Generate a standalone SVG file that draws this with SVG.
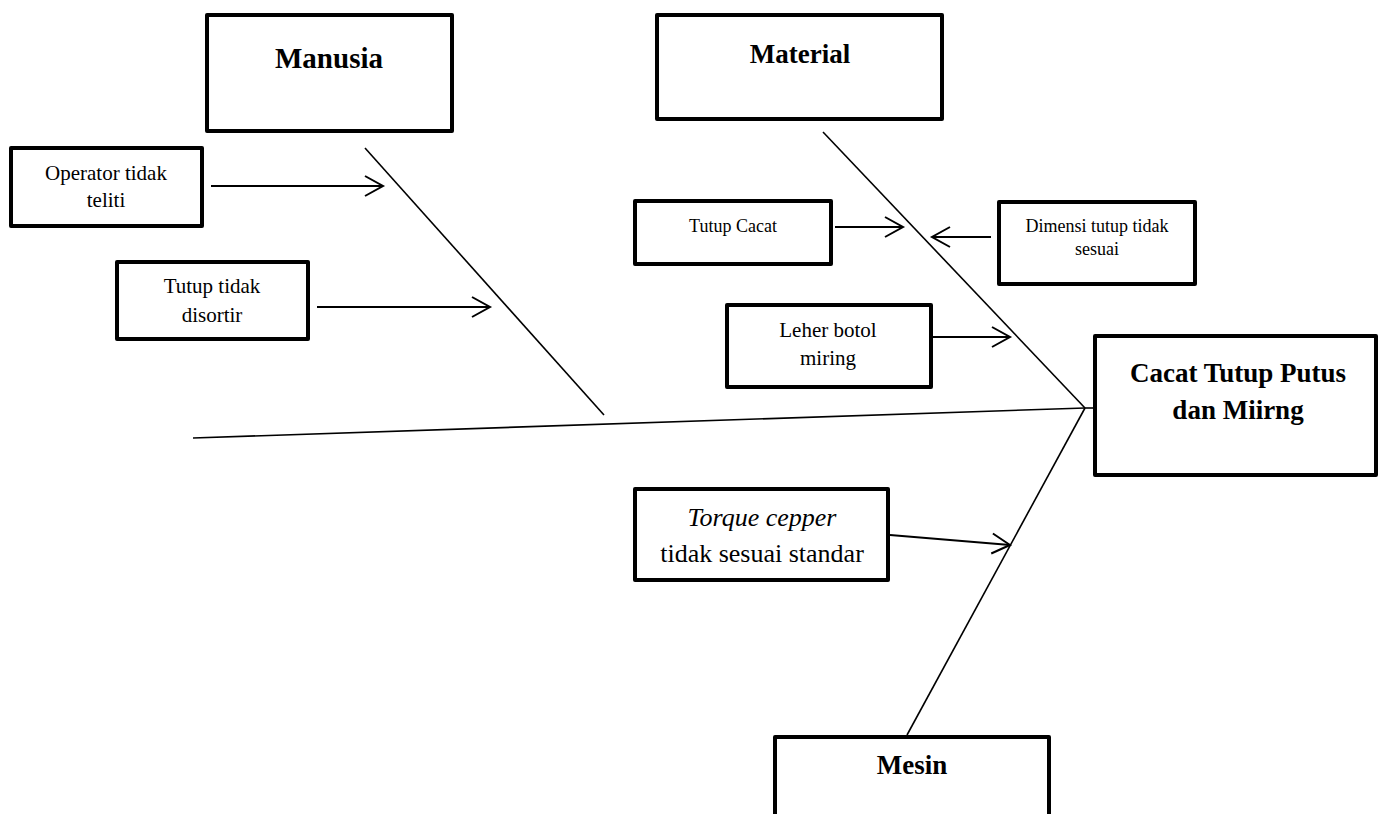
<svg xmlns="http://www.w3.org/2000/svg" width="1380" height="814" viewBox="0 0 1380 814">
  <style>
    .box { fill: #ffffff; stroke: #000000; stroke-width: 4; stroke-linejoin: round; }
    .bone { fill: none; stroke: #000000; stroke-width: 1.6; }
    .arrow { fill: none; stroke: #000000; stroke-width: 2; marker-end: url(#chev); }
    text { font-family: "Liberation Serif", "Times New Roman", serif; fill: #000000; text-anchor: middle; }
    .head { font-weight: bold; font-size: 27px; }
    .cause { font-size: 21px; }
    .small { font-size: 18px; }
    .big { font-size: 26px; }
  </style>
  <defs>
    <marker id="chev" markerUnits="userSpaceOnUse" markerWidth="24" markerHeight="24" viewBox="-20 -12 24 24" refX="0" refY="0" orient="auto">
      <path d="M-18,-10 L0,0 L-18,10" fill="none" stroke="#000000" stroke-width="2"/>
    </marker>
  </defs>
  <rect width="1380" height="814" fill="#ffffff"/>

  <!-- fish bones and cause arrows -->
  <g id="connectors">
    <line class="bone" x1="193" y1="438" x2="1085" y2="408"/>
    <line class="bone" x1="1085" y1="408" x2="1095" y2="408"/>
    <line class="bone" x1="365" y1="148" x2="604" y2="415"/>
    <line class="bone" x1="823" y1="132" x2="1085" y2="408"/>
    <line class="bone" x1="907" y1="735" x2="1085" y2="408"/>
    <line class="arrow" x1="211" y1="186" x2="383" y2="186"/>
    <line class="arrow" x1="317" y1="307" x2="490" y2="307"/>
    <line class="arrow" x1="835" y1="227" x2="903" y2="227"/>
    <line class="arrow" x1="991" y1="237" x2="932" y2="237"/>
    <line class="arrow" x1="933" y1="337" x2="1010" y2="337"/>
    <line class="arrow" x1="890" y1="535" x2="1010" y2="545"/>
  </g>

  <g id="manusia">
    <rect class="box" x="207" y="15" width="245" height="116"/>
    <text class="head" x="329" y="68" style="font-size:29px">Manusia</text>
  </g>
  <g id="operator">
    <rect class="box" x="11" y="148" width="191" height="78"/>
    <text class="cause" x="106" y="180">Operator tidak</text>
    <text class="cause" x="106" y="207">teliti</text>
  </g>
  <g id="tutup-disortir">
    <rect class="box" x="117" y="262" width="191" height="77"/>
    <text class="cause" x="212" y="293">Tutup tidak</text>
    <text class="cause" x="212" y="322">disortir</text>
  </g>
  <g id="material">
    <rect class="box" x="657" y="15" width="285" height="104"/>
    <text class="head" x="800" y="63">Material</text>
  </g>
  <g id="tutup-cacat">
    <rect class="box" x="635" y="201" width="196" height="63"/>
    <text class="small" x="733" y="232">Tutup Cacat</text>
  </g>
  <g id="dimensi">
    <rect class="box" x="999" y="202" width="196" height="82"/>
    <text class="small" x="1097" y="232">Dimensi tutup tidak</text>
    <text class="small" x="1097" y="255">sesuai</text>
  </g>
  <g id="leher">
    <rect class="box" x="727" y="305" width="204" height="82"/>
    <text class="cause" x="828" y="337">Leher botol</text>
    <text class="cause" x="828" y="365">miring</text>
  </g>
  <g id="effect">
    <rect class="box" x="1095" y="336" width="281" height="139"/>
    <text class="head" x="1238" y="382">Cacat Tutup Putus</text>
    <text class="head" x="1238" y="419">dan Miirng</text>
  </g>
  <g id="torque">
    <rect class="box" x="635" y="489" width="253" height="91"/>
    <text class="big" x="762" y="526" font-style="italic">Torque cepper</text>
    <text class="big" x="762" y="562">tidak sesuai standar</text>
  </g>
  <g id="mesin">
    <rect class="box" x="775" y="737" width="274" height="90"/>
    <text class="head" x="912" y="774">Mesin</text>
  </g>
</svg>
